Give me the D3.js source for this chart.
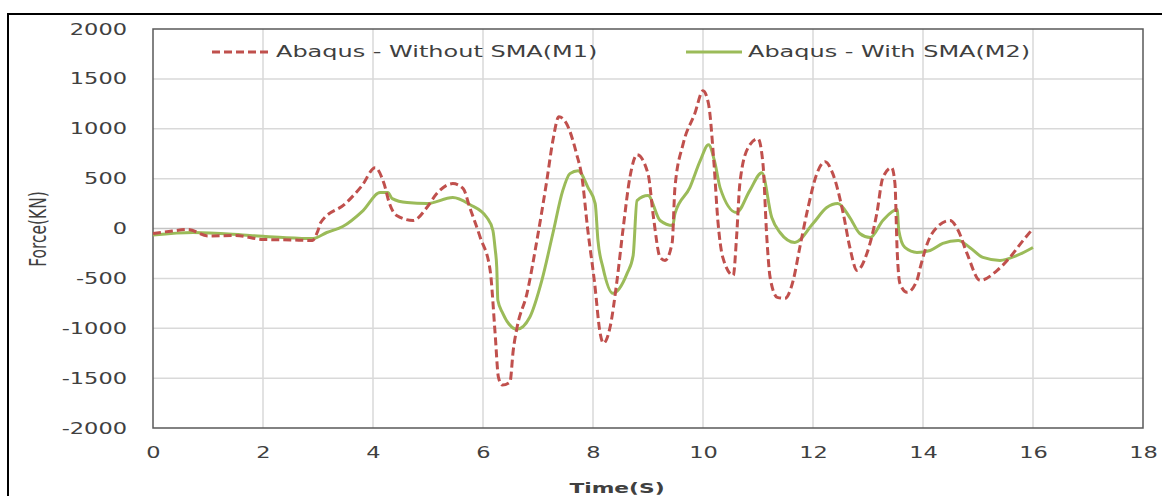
<!DOCTYPE html>
<html>
<head>
<meta charset="utf-8">
<script src="https://cdn.jsdelivr.net/npm/d3@7"></script>
<style>
  html, body { margin: 0; padding: 0; background: #fff; }
  svg { display: block; }
  text { font-family: "DejaVu Sans", Verdana, sans-serif; fill: #404040; }
</style>
</head>
<body>
<svg id="chart" width="1162" height="496"></svg>
<script>
// Time axis (s) and force (kN) for the model without SMA (M1)
const m1Time = [0, 0.35, 0.64, 1.0, 1.5, 2.0, 2.5, 2.9, 3.0, 3.05, 3.5, 3.8, 4.04, 4.2, 4.3, 4.43, 4.73, 4.98, 5.16, 5.45, 5.64, 5.76, 5.95, 6.13, 6.22, 6.28, 6.35, 6.49, 6.55, 6.62, 6.8, 6.98, 7.16, 7.27, 7.38, 7.52, 7.7, 7.8, 7.9, 8.03, 8.13, 8.19, 8.31, 8.43, 8.55, 8.67, 8.8, 9.0, 9.1, 9.22, 9.31, 9.44, 9.49, 9.64, 9.85, 10.0, 10.1, 10.2, 10.27, 10.36, 10.55, 10.61, 10.67, 10.82, 11.0, 11.09, 11.16, 11.22, 11.35, 11.49, 11.64, 11.76, 11.91, 12.07, 12.22, 12.36, 12.55, 12.67, 12.8, 12.98, 13.16, 13.27, 13.43, 13.49, 13.53, 13.58, 13.71, 13.89, 13.95, 14.1, 14.25, 14.49, 14.64, 14.8, 15.04, 15.35, 15.58, 15.82, 16.0];
const m1Force = [-50, -25, -10, -75, -70, -110, -115, -120, -20, 60, 250, 430, 610, 450, 250, 130, 80, 210, 350, 450, 400, 210, -90, -420, -1050, -1490, -1570, -1540, -1220, -990, -650, -120, 480, 880, 1120, 1050, 750, 510, 10, -550, -1050, -1150, -990, -550, 10, 510, 740, 550, 110, -290, -320, -140, 410, 850, 1150, 1380, 1250, 650, 80, -290, -470, -90, 450, 810, 900, 650, -90, -490, -690, -700, -520, -190, 210, 550, 670, 550, 150, -190, -420, -250, 150, 510, 610, 450, -220, -550, -640, -520, -390, -120, 10, 80, -20, -250, -520, -420, -290, -120, 0];

// Time axis (s) and force (kN) for the model with SMA (M2)
const m2Time = [0, 0.73, 1.76, 2.36, 2.91, 3.16, 3.45, 3.82, 4.13, 4.27, 4.35, 4.62, 4.98, 5.45, 5.76, 6.07, 6.18, 6.22, 6.25, 6.27, 6.36, 6.62, 6.85, 7.07, 7.27, 7.45, 7.58, 7.73, 7.91, 8.04, 8.09, 8.18, 8.36, 8.62, 8.73, 8.8, 9.0, 9.22, 9.45, 9.49, 9.76, 9.95, 10.1, 10.22, 10.31, 10.61, 10.85, 11.07, 11.25, 11.4, 11.67, 12.0, 12.25, 12.45, 12.67, 12.85, 13.04, 13.27, 13.53, 13.56, 13.67, 13.89, 14.13, 14.36, 14.64, 14.85, 15.09, 15.4, 15.71, 16.0];
const m2Force = [-65, -40, -70, -90, -100, -40, 20, 180, 360, 360, 300, 260, 250, 310, 240, 110, -20, -200, -390, -720, -850, -1010, -890, -520, -50, 380, 550, 580, 410, 250, -120, -390, -650, -450, -270, 280, 330, 80, 30, 150, 410, 680, 840, 650, 410, 160, 380, 560, 110, -40, -140, 50, 210, 250, 110, -50, -90, 80, 190, -20, -190, -240, -220, -150, -120, -190, -290, -320, -270, -190];

const seriesNames = ["Abaqus - Without SMA(M1)", "Abaqus - With SMA(M2)"];
const xTicks = [0, 2, 4, 6, 8, 10, 12, 14, 16, 18];
const yTicks = [-2000, -1500, -1000, -500, 0, 500, 1000, 1500, 2000];
const xTitle = "Time(S)";
const yTitle = "Force(KN)";

const RED = "#c0504d", GREEN = "#9bbb59";
const SX = 1.5; // horizontal stretch of the lettering

const svg = d3.select("#chart");

// outer frame
svg.append("rect")
  .attr("x", 8).attr("y", 14).attr("width", 1170).attr("height", 500)
  .attr("fill", "none").attr("stroke", "#000").attr("stroke-width", 2);

const plot = { left: 153, top: 29, right: 1143, bottom: 428 };
const x = d3.scaleLinear().domain([0, 18]).range([plot.left, plot.right]);
const y = d3.scaleLinear().domain([-2000, 2000]).range([plot.bottom, plot.top]);

// gridlines
const grid = svg.append("g");
grid.selectAll("line.v").data(xTicks.filter(t => t > 0 && t < 18)).join("line")
  .attr("x1", d => x(d)).attr("x2", d => x(d))
  .attr("y1", plot.top).attr("y2", plot.bottom)
  .attr("stroke", "#d9d9d9").attr("stroke-width", 1.5);
grid.selectAll("line.h").data(yTicks.filter(t => t > -2000 && t < 2000)).join("line")
  .attr("x1", plot.left).attr("x2", plot.right)
  .attr("y1", d => y(d)).attr("y2", d => y(d))
  .attr("stroke", d => d === 0 ? "#c4c4c4" : "#d9d9d9").attr("stroke-width", 1.5);

// plot-area border
svg.append("rect")
  .attr("x", plot.left).attr("y", plot.top)
  .attr("width", plot.right - plot.left).attr("height", plot.bottom - plot.top)
  .attr("fill", "none").attr("stroke", "#595959").attr("stroke-width", 1.5);

// axes (labels only, Excel style; plain hyphen for negatives)
const fmt = d => String(d);
const xAxis = d3.axisBottom(x).tickValues(xTicks).tickFormat(fmt).tickSize(0).tickPadding(0);
const gx = svg.append("g").attr("transform", `translate(0,${plot.bottom})`).call(xAxis);
gx.select(".domain").remove();
gx.selectAll("text")
  .attr("font-size", 15).attr("fill", "#404040").attr("y", 0).attr("dy", 0)
  .attr("dominant-baseline", "central")
  .attr("transform", `translate(0,25) scale(${SX},1)`);

const yAxis = d3.axisLeft(y).tickValues(yTicks).tickFormat(fmt).tickSize(0).tickPadding(0);
const gy = svg.append("g").attr("transform", `translate(127,0)`).call(yAxis);
gy.select(".domain").remove();
gy.selectAll("text")
  .attr("font-size", 15).attr("fill", "#404040").attr("x", 0).attr("dy", 0)
  .attr("dominant-baseline", "central")
  .attr("transform", `scale(${SX},1)`);

// axis titles
svg.append("text")
  .attr("transform", `translate(617,488) scale(${SX},1)`)
  .attr("text-anchor", "middle").attr("dominant-baseline", "central")
  .attr("font-size", 14.5).attr("font-weight", "bold").attr("fill", "#404040")
  .text(xTitle);
svg.append("text")
  .attr("transform", `translate(38,229) scale(${SX},1) rotate(-90)`)
  .attr("text-anchor", "middle").attr("dominant-baseline", "central")
  .attr("font-size", 15.5).attr("fill", "#333")
  .text(yTitle);

// series
const line = d3.line().x(d => x(d[0])).y(d => y(d[1])).curve(d3.curveMonotoneX);
const m1 = m1Time.map((t, i) => [t, m1Force[i]]);
const m2 = m2Time.map((t, i) => [t, m2Force[i]]);

svg.append("path").datum(m2).attr("d", line)
  .attr("fill", "none").attr("stroke", GREEN).attr("stroke-width", 3)
  .attr("stroke-linejoin", "round");
svg.append("path").datum(m1).attr("d", line)
  .attr("fill", "none").attr("stroke", RED).attr("stroke-width", 3)
  .attr("stroke-dasharray", "8,4").attr("stroke-linejoin", "round");

// legend
const legend = [
  { name: seriesNames[0], color: RED, dash: "8,4", x0: 212, x1: 270, tx: 276 },
  { name: seriesNames[1], color: GREEN, dash: null, x0: 686, x1: 742, tx: 748 }
];
const lg = svg.append("g");
legend.forEach(l => {
  lg.append("line")
    .attr("x1", l.x0).attr("x2", l.x1).attr("y1", 52).attr("y2", 52)
    .attr("stroke", l.color).attr("stroke-width", 3)
    .attr("stroke-dasharray", l.dash);
  lg.append("text")
    .attr("transform", `translate(${l.tx},52) scale(${SX},1)`)
    .attr("dominant-baseline", "central")
    .attr("font-size", 16).attr("fill", "#333")
    .text(l.name);
});
</script>
</body>
</html>
